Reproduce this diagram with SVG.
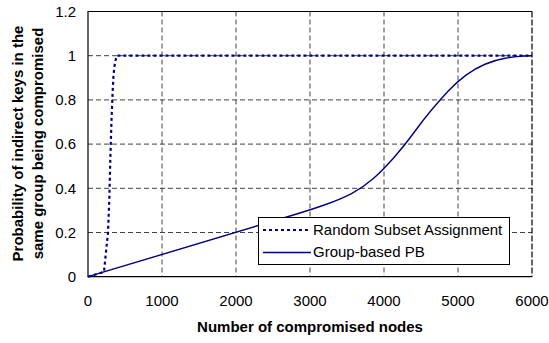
<svg xmlns="http://www.w3.org/2000/svg" width="549" height="343" viewBox="0 0 549 343">
<style>
.grid{stroke:#404040;stroke-width:1;stroke-dasharray:5,3;fill:none}
.tick{font-family:"Liberation Sans",Arial,sans-serif;font-size:15px;fill:#000}
.title{font-family:"Liberation Sans",Arial,sans-serif;font-size:15px;font-weight:bold;fill:#000}
.solid{stroke:#000080;stroke-width:1.4;fill:none}
.dotted{stroke:#000080;stroke-width:2.2;fill:none;stroke-dasharray:3,3}
</style>
<rect width="549" height="343" fill="#fff"/>
<g id="grid">
<path class="grid" d="M162,11.5V276.7M236,11.5V276.7M310,11.5V276.7M384,11.5V276.7M458,11.5V276.7M88,55.7H532M88,99.9H532M88,144.1H532M88,188.3H532M88,232.5H532"/>
</g>
<g id="axes">
<path d="M532,11.5H88V276.7H532" stroke="#000" stroke-width="1.2" fill="none"/>
<path d="M532,11.5V276.7" stroke="#000" stroke-width="1.2" stroke-dasharray="6,2" fill="none"/>
</g>
<g id="yticks" class="tick" text-anchor="end">
<text x="76" y="16.8">1.2</text>
<text x="76" y="61">1</text>
<text x="76" y="105.2">0.8</text>
<text x="76" y="149.4">0.6</text>
<text x="76" y="193.6">0.4</text>
<text x="76" y="237.8">0.2</text>
<text x="76" y="282">0</text>
</g>
<g id="xticks" class="tick" text-anchor="middle">
<text x="88" y="306">0</text>
<text x="162" y="306">1000</text>
<text x="236" y="306">2000</text>
<text x="310" y="306">3000</text>
<text x="384" y="306">4000</text>
<text x="458" y="306">5000</text>
<text x="532" y="306">6000</text>
</g>
<g id="axis-titles" class="title" text-anchor="middle">
<text x="310" y="331.5">Number of compromised nodes</text>
<text transform="translate(23,143.5) rotate(-90)">Probability of indirect keys in the</text>
<text transform="translate(43.3,143.5) rotate(-90)">same group being compromised</text>
</g>
<g id="connectors">
<path id="group-based-pb" class="solid" d="M88,276.7 L300,213 Q310,210 325,204.75 Q340,199.5 351.5,193.6 Q363,187.7 373,178.85 Q383,170 394,157.5 Q405,145 414,132.5 Q423,120 431.5,110 Q440,100 448.5,90.85 Q457,81.7 466,75.1 Q475,68.5 485,64.25 Q495,60 505,58.25 Q515,56.5 523.5,56.1 L532,55.7"/>
<path id="random-subset" class="dotted" d="M88,276.7 L104,271.9 L106,252 L108,232.5 L109.3,200 L110.3,160 L111.5,120 L112.5,95 L113.5,75 L115,62 L117,55.7 L532,55.7"/>
</g>
<g id="legend">
<rect x="258.5" y="217.5" width="251" height="47" fill="#fff" stroke="#000" stroke-width="1"/>
<path class="dotted" d="M263,230H310"/>
<path class="solid" d="M263,252.5H311"/>
<text class="tick" x="313" y="235.3">Random Subset Assignment</text>
<text class="tick" x="313" y="257.3">Group-based PB</text>
</g>
</svg>
